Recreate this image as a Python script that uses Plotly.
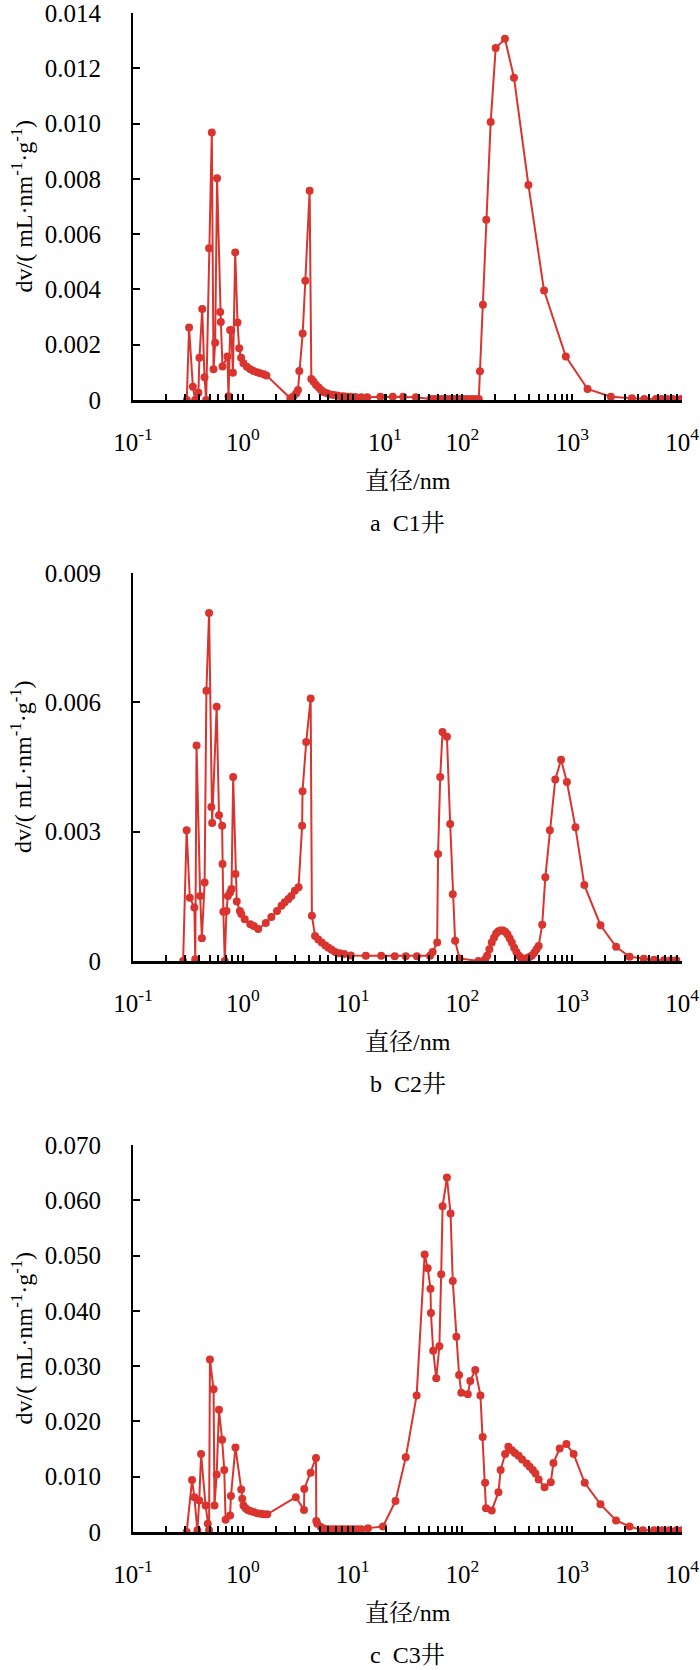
import plotly.graph_objects as go

# ---------------- data (diameter nm, dV) ----------------
D_A = [0.309, 0.324, 0.351, 0.368, 0.394, 0.403, 0.427, 0.448, 0.464, 0.493, 0.522, 0.541, 0.560, 0.583,
       0.622, 0.631, 0.653, 0.724, 0.741, 0.767, 0.785, 0.813, 0.853, 0.895, 0.927, 0.966, 1.014, 1.09,
       1.17, 1.25, 1.35, 1.44, 1.55, 1.64, 2.71, 2.90, 3.07, 3.18, 3.27, 3.51, 3.71, 4.06, 4.21, 4.42,
       4.64, 4.91, 5.16, 5.45, 5.85, 6.27, 6.73, 7.21, 7.74, 8.29, 8.91, 9.55, 10.6, 12.0, 13.6, 17.9,
       23.2, 28.9, 37.7, 51.3, 55.7, 60.7, 65.9, 71.8, 78.0, 84.9, 92.3, 100.4, 109, 119, 129, 141,
       144.5, 153.8, 165, 181, 201, 244, 295, 399, 554, 875, 1380, 2250, 3500, 4530, 5790, 6530, 7300,
       8230, 9800]
V_A = [0, 0.00262, 0.00048, 0, 0.00026, 0.00153, 0.00329, 0.00082, 0, 0.00549, 0.00968, 0.00111, 0.00207,
       0.00802, 0.00318, 0.00282, 0.00121, 0.00157, 0.00014, 0.00253, 0.00251, 0.00099, 0.00534, 0.0028,
       0.00187, 0.00153, 0.00133, 0.0012, 0.00111, 0.00105, 0.0010, 0.00097, 0.00093, 0.00089, 0.00006,
       0.00014, 0.00024, 0.00036, 0.00105, 0.00241, 0.00431, 0.00757, 0.00076, 0.00066, 0.00054, 0.00045,
       0.00036, 0.00029, 0.00024, 0.0002, 0.00018, 0.00016, 0.00014, 0.00014, 0.00012, 0.00012, 0.00011,
       0.0001, 0.0001, 0.00012, 0.00012, 0.00012, 0.0001, 0.00004, 0.00004, 0.00004, 0.00004, 0.00004,
       0.00004, 0.00004, 0.00004, 0.00004, 0.00004, 0.00004, 0.00004, 0.00004, 0.00104, 0.00345, 0.00652,
       0.01006, 0.01273, 0.01307, 0.01166, 0.00778, 0.00396, 0.00157, 0.0004, 0.00012, 0.00006, 0.00004,
       0.00004, 0.00004, 0.00004, 0.00004, 0.00004]

D_B = [0.286, 0.308, 0.329, 0.362, 0.369, 0.379, 0.409, 0.424, 0.449, 0.466, 0.493, 0.517, 0.526, 0.578,
       0.607, 0.648, 0.653, 0.665, 0.685, 0.710, 0.731, 0.766, 0.789, 0.817, 0.857, 0.881, 0.941, 0.969,
       1.04, 1.17, 1.26, 1.38, 1.62, 1.82, 2.05, 2.25, 2.41, 2.60, 2.77, 2.98, 3.22, 3.47, 3.50, 3.78,
       4.15, 4.26, 4.55, 4.87, 5.24, 5.65, 6.03, 6.45, 6.94, 7.63, 8.38, 9.64, 13.2, 18.2, 24.2, 30.5,
       38.5, 50.7, 53.6, 58.9, 60.0, 62.8, 65.9, 72.3, 77.4, 81.7, 85.8, 94.1, 140, 161, 168, 176, 185,
       194, 203, 213, 223, 234, 245, 257, 269, 282, 296, 310, 325, 340, 357, 374, 392, 411, 430, 451,
       473, 495, 533, 569, 626, 701, 792, 895, 1070, 1290, 1810, 2510, 3330, 4490, 5560, 6840, 7870, 8890]
V_B = [0, 0.00303, 0.00147, 0.00124, 0.00004, 0.0050, 0.00151, 0.00053, 0.00182, 0.00627, 0.00807, 0.00357,
       0.0032, 0.0059, 0.00338, 0.00314, 0.00225, 0.00114, 0, 0.00116, 0.00151, 0.00159, 0.00167, 0.00427,
       0.00202, 0.00138, 0.00116, 0.00109, 0.00097, 0.00085, 0.00081, 0.00074, 0.00088, 0.00102, 0.00116,
       0.00128, 0.00136, 0.00144, 0.00151, 0.00163, 0.00171, 0.00314, 0.00394, 0.00508, 0.00609, 0.00105,
       0.00058, 0.0005, 0.00043, 0.00036, 0.00031, 0.00026, 0.00021, 0.00018, 0.00016, 0.00013, 0.00012,
       0.00012, 0.00011, 0.00011, 0.00011, 0.00012, 0.00021, 0.00043, 0.00248, 0.00427, 0.00531, 0.0052,
       0.00318, 0.00155, 0.00047, 0.00006, 0, 0.00004, 0.00012, 0.00027, 0.00043, 0.00054, 0.00064,
       0.00069, 0.00071, 0.00071, 0.00068, 0.00062, 0.00053, 0.00043, 0.00031, 0.00021, 0.00013, 0.00008,
       0.00005, 0.00005, 0.00007, 0.0001, 0.00013, 0.00019, 0.00027, 0.00035, 0.00084, 0.00194, 0.00303,
       0.00421, 0.00467, 0.00415, 0.0031, 0.00176, 0.00083, 0.00033, 0.0001, 0.00005, 0.00003, 0.00002,
       0.00002, 0.00002]

D_C = [0.308, 0.345, 0.362, 0.386, 0.401, 0.417, 0.458, 0.480, 0.493, 0.502, 0.542, 0.552, 0.578, 0.607,
       0.648, 0.678, 0.697, 0.766, 0.780, 0.857, 0.967, 0.988, 1.014, 1.06, 1.11, 1.17, 1.25, 1.35, 1.45,
       1.55, 1.67, 3.04, 3.61, 3.63, 4.15, 4.64, 4.67, 4.77, 5.14, 5.50, 5.89, 6.31, 6.77, 7.27, 7.79,
       8.35, 8.97, 9.61, 10.3, 11.1, 12.0, 13.8, 18.9, 24.6, 30.5, 38.3, 45.3, 48.3, 51.2, 51.7, 54.2,
       57.8, 61.7, 64.1, 66.0, 72.3, 78.0, 81.7, 88.1, 93.3, 97.7, 112, 118, 131, 146, 153, 161, 164,
       185, 213, 223, 245, 262, 282, 301, 325, 350, 385, 410, 438, 463, 495, 560, 638, 675, 769, 885,
       1030, 1300, 1810, 2510, 3330, 4400, 5560, 6530, 7660, 8890, 9950]
V_C = [0, 0.0094, 0.0063, 0.0003, 0.0057, 0.0141, 0.0048, 0.0015, 0.0003, 0.0312, 0.0258, 0.0048, 0.0104,
       0.0221, 0.0167, 0.0112, 0.0022, 0.003, 0.0065, 0.0153, 0.0077, 0.006, 0.0048, 0.0043, 0.004, 0.0038,
       0.0036, 0.0034, 0.0033, 0.0032, 0.0032, 0.0063, 0.004, 0.0078, 0.0107, 0.0134, 0.002, 0.0015, 0.0009,
       0.0006, 0.0005, 0.0005, 0.0005, 0.0005, 0.0005, 0.0005, 0.0005, 0.0005, 0.0005, 0.0005, 0.0005,
       0.0007, 0.001, 0.0056, 0.0135, 0.0247, 0.0502, 0.0477, 0.044, 0.0396, 0.0328, 0.0278, 0.0336,
       0.0466, 0.0589, 0.0641, 0.0576, 0.0454, 0.0353, 0.0284, 0.0252, 0.0249, 0.0273, 0.0293, 0.0247,
       0.0172, 0.0089, 0.0043, 0.0039, 0.0072, 0.0112, 0.0141, 0.0154, 0.0148, 0.0143, 0.0138, 0.0131,
       0.0124, 0.0118, 0.0112, 0.0106, 0.0095, 0.0081, 0.009, 0.0125, 0.0151, 0.0159, 0.0141, 0.0089,
       0.005, 0.0021, 0.001, 0.0003, 0.0003, 0.0003, 0.0003, 0.0003, 0.0003]

# ---------------- ticks / labels ----------------
X_TICKTEXT = ["10<sup>-1</sup>", "10<sup>0</sup>", "10<sup>1</sup>", "10<sup>2</sup>",
              "10<sup>3</sup>", "10<sup>4</sup>"]
X_TICKVALS = [0.1, 1, 10, 100, 1000, 10000]
X_TICKVALS_A = [0.1, 1, 19.7, 100, 1000, 10000]   # panel a: "10^1" label sits off its decade
Y_TICKVALS_A = [0, 0.002, 0.004, 0.006, 0.008, 0.010, 0.012, 0.014]
Y_TICKTEXT_A = ["0", "0.002", "0.004", "0.006", "0.008", "0.010", "0.012", "0.014"]
Y_TICKVALS_B = [0, 0.003, 0.006, 0.009]
Y_TICKTEXT_B = ["0", "0.003", "0.006", "0.009"]
Y_TICKVALS_C = [0, 0.010, 0.020, 0.030, 0.040, 0.050, 0.060, 0.070]
Y_TICKTEXT_C = ["0", "0.010", "0.020", "0.030", "0.040", "0.050", "0.060", "0.070"]
Y_TITLE = "dv/( mL·nm<sup>-1</sup>·g<sup>-1</sup>)"
X_TITLE = "直径/nm"
SUBTITLES = ["a  C1井", "b  C2井", "c  C3井"]

RED = "#D9342E"
FONT = "Times New Roman, Liberation Serif, Noto Serif CJK SC, Noto Sans CJK SC, serif"
W, H = 700, 1670

MINOR = [m * 10 ** k for k in range(-1, 4) for m in range(2, 10)]

panels = [
    dict(D=D_A, V=V_A, ymax=0.014, yv=Y_TICKVALS_A, yt=Y_TICKTEXT_A, xv=X_TICKVALS_A,
         top=13, bot=400, minor=MINOR + [10]),
    dict(D=D_B, V=V_B, ymax=0.009, yv=Y_TICKVALS_B, yt=Y_TICKTEXT_B, xv=X_TICKVALS,
         top=573, bot=961, minor=MINOR),
    dict(D=D_C, V=V_C, ymax=0.070, yv=Y_TICKVALS_C, yt=Y_TICKTEXT_C, xv=X_TICKVALS,
         top=1145, bot=1532, minor=MINOR),
]

X0, X1 = 133, 682
fig = go.Figure()
annotations = []
layout = {}
for i, p in enumerate(panels):
    n = "" if i == 0 else str(i + 1)
    fig.add_trace(go.Scatter(
        x=p["D"], y=p["V"], mode="lines+markers",
        xaxis="x" + n, yaxis="y" + n,
        line=dict(color=RED, width=2),
        marker=dict(color=RED, size=8),
        showlegend=False, hoverinfo="skip"))
    ydom = [1 - p["bot"] / H, 1 - p["top"] / H]
    layout["xaxis" + n] = dict(
        type="log", range=[-1, 4], domain=[X0 / W, X1 / W], anchor="y" + n,
        automargin=False, ticklabeloverflow="allow",
        showline=True, linecolor="black", linewidth=2.5, showgrid=False, zeroline=False,
        tickmode="array", tickvals=p["xv"], ticktext=X_TICKTEXT,
        ticks="inside", ticklen=6, tickwidth=1.5, tickcolor="black",
        ticklabelstandoff=18,
        minor=dict(tickmode="array", tickvals=p["minor"], ticks="inside", ticklen=6,
                   tickwidth=1.5, tickcolor="black", showgrid=False),
        tickfont=dict(family=FONT, size=25, color="black"),
    )
    layout["yaxis" + n] = dict(
        range=[0, p["ymax"]], domain=ydom, anchor="x" + n,
        automargin=False, ticklabeloverflow="allow",
        showline=True, linecolor="black", linewidth=2.2, showgrid=False, zeroline=False,
        tickmode="array", tickvals=p["yv"], ticktext=p["yt"],
        ticks="inside", ticklen=7, tickwidth=1.5, tickcolor="black",
        ticklabelstandoff=25,
        tickfont=dict(family=FONT, size=25, color="black"),
    )
    cy = (p["top"] + p["bot"]) / 2
    annotations.append(dict(text=Y_TITLE, x=21 / W, y=1 - cy / H, xref="paper", yref="paper",
                            textangle=-90, showarrow=False, xanchor="center", yanchor="middle",
                            font=dict(family=FONT, size=24, color="black")))
    annotations.append(dict(text=X_TITLE, x=(X0 + X1) / 2 / W, y=1 - (p["bot"] + 81) / H,
                            xref="paper", yref="paper", showarrow=False,
                            xanchor="center", yanchor="middle",
                            font=dict(family=FONT, size=24, color="black")))
    annotations.append(dict(text=SUBTITLES[i], x=(X0 + X1) / 2 / W, y=1 - (p["bot"] + 123) / H,
                            xref="paper", yref="paper", showarrow=False,
                            xanchor="center", yanchor="middle",
                            font=dict(family=FONT, size=24, color="black")))

fig.update_layout(
    width=W, height=H, margin=dict(l=0, r=0, t=0, b=0, autoexpand=False),
    paper_bgcolor="white", plot_bgcolor="white",
    font=dict(family=FONT),
    annotations=annotations, **layout)

fig.write_html("out.html", config={"displayModeBar": False},
               post_script="document.body.style.margin='0px';")
